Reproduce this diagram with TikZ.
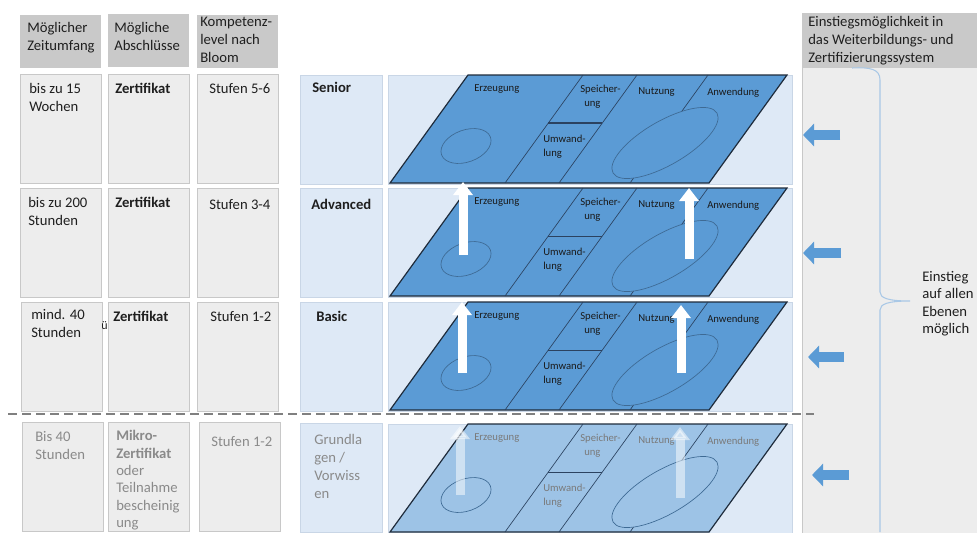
\documentclass[tikz,border=0pt]{standalone}
\usepackage{fontspec}
\setmainfont{Carlito}
\usepackage{tikz}
\usetikzlibrary{arrows.meta, positioning, calc}
\definecolor{hdrgray}{HTML}{C9C9C9}
\definecolor{cellgray}{HTML}{EDEDED}
\definecolor{cellline}{HTML}{C8C8C8}
\definecolor{lvlblue}{HTML}{DEE9F6}
\definecolor{lvlline}{HTML}{C9D6E6}
\definecolor{planeblue}{HTML}{5B9BD5}
\definecolor{planepale}{HTML}{9DC3E6}
\definecolor{planeedge}{HTML}{1E2B3B}
\definecolor{lineink}{HTML}{2B4260}
\definecolor{orbitink}{HTML}{3E6A94}
\definecolor{ink}{HTML}{1F1F1F}
\definecolor{fadetext}{HTML}{8A8A8A}
\definecolor{planeink}{HTML}{1A1A1A}
\definecolor{planefade}{HTML}{7A7A7A}
\definecolor{entryblue}{HTML}{5B9BD5}
\definecolor{bracecol}{HTML}{A9C8E6}
\tikzset{
    hdrbox/.style={
        fill=hdrgray, draw=none, anchor=north west,
        minimum width=60.75pt, minimum height=39.75pt, inner sep=0pt,
    },
    cellbox/.style={
        fill=cellgray, draw=cellline, line width=0.5pt, anchor=north west,
        minimum width=60.75pt, minimum height=82pt, inner sep=0pt,
    },
    lvlbox/.style={
        fill=lvlblue, draw=lvlline, line width=0.5pt, anchor=north west,
        minimum width=61.5pt, minimum height=81.75pt, inner sep=0pt,
    },
    planebg/.style={
        fill=lvlblue, draw=lvlline, line width=0.5pt, anchor=north west,
        minimum width=303pt, minimum height=81.75pt, inner sep=0pt,
    },
    celltxt/.style={
        font=\fontsize{11}{13.5}\selectfont, text=ink,
        align=left, inner sep=0pt, anchor=north west,
    },
    fadetxt/.style={celltxt, text=fadetext},
    planetxt/.style={
        font=\fontsize{8}{10.5}\selectfont,
        align=left, inner sep=0pt, anchor=north west,
    },
    plane/.style={draw=planeedge, line width=0.9pt},
    planeline/.style={draw=lineink, line width=0.5pt},
    orbit/.style={draw=orbitink, line width=0.5pt},
    liftarr/.style={
        -{Triangle[length=9.75pt, width=14.25pt]}, line width=6.75pt, white,
    },
    entryarr/.style={
        -{Triangle[length=8.25pt, width=16.5pt]}, line width=7.5pt, entryblue,
    },
}

\begin{document}
\begin{tikzpicture}[x=0.75pt, y=-0.75pt]
\useasboundingbox (0,0) rectangle (977,532);

% ═══ HEADER ROW ═══
\node[hdrbox] (hZeit) at (20,15) {};
\node[hdrbox] (hAbs) at (108,14) {};
\node[hdrbox] (hBloom) at (197,15) {};
\node[celltxt] (hZeitT) at (27,22) {Möglicher\\Zeitumfang};
\node[celltxt] (hAbsT) at (114,22) {Mögliche\\Abschlüsse};
\node[celltxt] (hBloomT) at (200,17) {Kompetenz-\\level nach\\Bloom};

% ═══ LEFT CELLS (one row per level) ═══
\node[cellbox] (zeit1) at (20,74) {};
\node[cellbox] (abs1) at (108,74) {};
\node[cellbox] (bloom1) at (197,74) {};
\node[lvlbox] (lvl1) at (300,75) {};
\node[celltxt] at (29,83) {bis zu 15\\Wochen};
\node[celltxt] at (115,83) {\textbf{Zertifikat}};
\node[celltxt] at (209,83) {Stufen 5-6};
\node[celltxt] at (312,82) {\textbf{Senior}};

\node[cellbox] (zeit2) at (20,188) {};
\node[cellbox] (abs2) at (108,188) {};
\node[cellbox] (bloom2) at (197,188) {};
\node[lvlbox] (lvl2) at (300,188) {};
\node[celltxt] at (28,197) {bis zu 200\\Stunden};
\node[celltxt] at (115,197) {\textbf{Zertifikat}};
\node[celltxt] at (209,199) {Stufen 3-4};
\node[celltxt] at (311,199) {\textbf{Advanced}};

\node[cellbox] (zeit3) at (21,302) {};
\node[cellbox] (abs3) at (108,302) {};
\node[cellbox] (bloom3) at (197,302) {};
\node[lvlbox] (lvl3) at (300,302) {};
\node[celltxt] at (31,309) {mind. 40\\Stunden};
\node[celltxt, font=\fontsize{9}{10}\selectfont] (stray) at (101,321) {ü};
\node[celltxt] at (113,311) {\textbf{Zertifikat}};
\node[celltxt] at (210,311) {Stufen 1-2};
\node[celltxt] at (316,311) {\textbf{Basic}};

% faded entry row
\node[cellbox] (zeit4) at (22,422) {};
\node[cellbox] (abs4) at (108,422) {};
\node[cellbox] (bloom4) at (199,422) {};
\node[lvlbox] (lvl4) at (300,423) {};
\node[fadetxt] at (35,431) {Bis 40\\Stunden};
\node[fadetxt, font=\fontsize{11}{13.1}\selectfont] at (116,430)
    {\textbf{Mikro-}\\\textbf{Zertifikat}\\oder\\Teilnahme\\bescheinig\\ung};
\node[fadetxt] at (211,436) {Stufen 1-2};
\node[fadetxt] at (314,434) {Grundla\\gen /\\Vorwiss\\en};

% ═══ PLANES ═══
\foreach \t/\n/\pfill/\ptext in {75/1/planeblue/planeink, 188/2/planeblue/planeink,
                                 302/3/planeblue/planeink, 424/4/planepale/planefade} {
  \begin{scope}[shift={(0,\t)}]
    \node[planebg] (bg\n) at (388,0) {};
    \filldraw[plane, fill=\pfill] (468,0) -- (787,0) -- (709,108) -- (390,108) -- cycle;
    \draw[planeline] (583,0) -- (505,108);
    \draw[planeline] (637,0) -- (559,108);
    \draw[planeline] (708,0) -- (630,108);
    \draw[planeline] (548,48) -- (602,48);
    \filldraw[orbit, fill=\pfill, rotate around={20:(466,71)}] (466,71) ellipse (26 and 16);
    \filldraw[orbit, fill=\pfill, rotate around={30:(665,68)}] (665,68) ellipse (60 and 22);
    \node[planetxt, text=\ptext] (erz\n) at (474,9) {Erzeugung};
    \node[planetxt, text=\ptext] (spe\n) at (580,10) {Speicher-\\\hspace*{3pt}ung};
    \node[planetxt, text=\ptext] (nut\n) at (638,12) {Nutzung};
    \node[planetxt, text=\ptext] (anw\n) at (707,13) {Anwendung};
    \node[planetxt, text=\ptext] (umw\n) at (543,60) {Umwand-\\lung};
  \end{scope}
}
% double rule on the top plane
\draw[planeline, line width=1.4pt] (548,123) -- (602,123);

% lift arrows between the planes
\foreach \n/\xa/\ya/\yb/\op in {2a/463/255/182/1, 2b/689/259/188/1, 3a/462/373/302/1,
                                3b/681/373/305/1, 4a/460/495/426/0.5, 4b/680/498/427/0.5} {
  \coordinate (lift\n-s) at (\xa,\ya);
  \coordinate (lift\n-e) at (\xa,\yb);
  \draw[liftarr, opacity=\op] (lift\n-s) -- (lift\n-e);
}

% ═══ ENTRY COLUMN ═══
\node[hdrbox, minimum width=131.25pt, minimum height=41.25pt] (hEntry) at (802,13) {};
\node[celltxt] (hEntryT) at (808,16) {Einstiegsmöglichkeit in\\das Weiterbildungs- und\\Zertifizierungssystem};
\node[cellbox, draw=none, minimum width=131.25pt, minimum height=348.75pt] (entryCol) at (802,68) {};
\draw[cellline, line width=0.7pt] (entryCol.north west) -- (entryCol.south west);

\draw[bracecol, line width=0.8pt] (852,68) .. controls (870,67) and (880,69) .. (880,80)
    -- (880,292) .. controls (880,298) and (888,301) .. (910,301)
    .. controls (888,301) and (880,304) .. (880,310) -- (880,532);
\node[celltxt, font=\fontsize{11}{13}\selectfont] (entryT) at (922,271) {Einstieg\\auf allen\\Ebenen\\möglich};

\foreach \n/\xa/\xb/\y in {1/840/803/135, 2/841/803/253, 3/844/808/357, 4/849/812/475} {
  \coordinate (entry\n-s) at (\xa,\y);
  \coordinate (entry\n-e) at (\xb,\y);
  \draw[entryarr] (entry\n-s) -- (entry\n-e);
}

% dashed separator
\draw[gray, line width=1.3pt, dash pattern=on 6.75pt off 3.75pt] (8,414) -- (814,414);

\end{tikzpicture}
\end{document}
